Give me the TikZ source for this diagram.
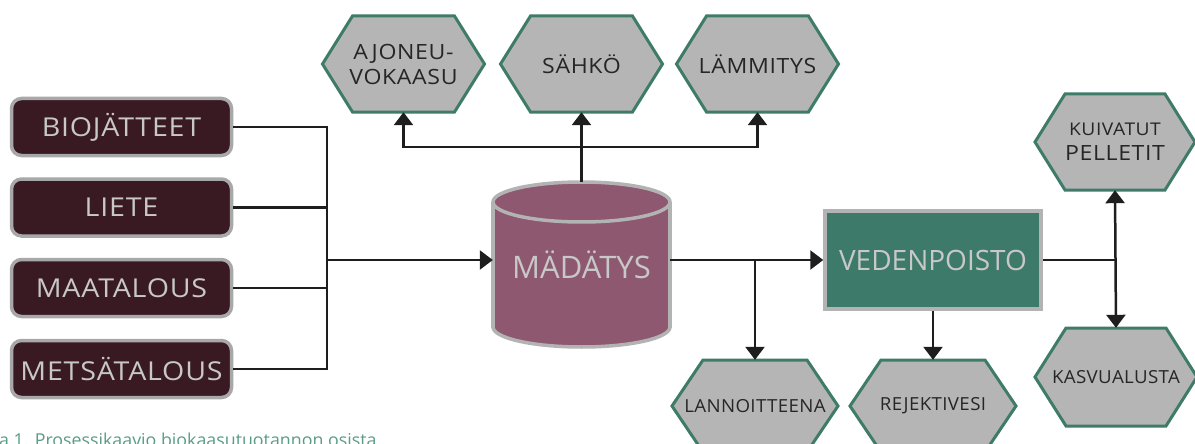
\documentclass[tikz,border=0pt]{standalone}
\usepackage{fontspec}
\setmainfont{Open Sans}
\newfontfamily\spfont[FakeStretch=1.1,LetterSpace=3]{Open Sans}
\newfontfamily\smfont[FakeStretch=1.04,LetterSpace=2]{Open Sans}
\usetikzlibrary{arrows.meta}
\definecolor{srcfill}{HTML}{3A1A22}
\definecolor{srcline}{HTML}{A8A8A8}
\definecolor{lighttext}{HTML}{C8C8C8}
\definecolor{cylfill}{HTML}{8E5870}
\definecolor{cylline}{HTML}{B3B3B3}
\definecolor{vedfill}{HTML}{3D7A6A}
\definecolor{hexfill}{HTML}{B5B5B5}
\definecolor{hexline}{HTML}{3E7B69}
\definecolor{linecol}{HTML}{1E1E1E}
\definecolor{capgreen}{HTML}{5A9C85}
\newcommand{\hexnode}[7]{%
  \draw[hexshape] (#2-#4,#3-#5) -- (#2+#4,#3-#5) -- (#2+#4+#6,#3) -- (#2+#4,#3+#5)
     -- (#2-#4,#3+#5) -- (#2-#4-#6,#3) -- cycle;
  \node[hextext, minimum width=2*#4, minimum height=2*#5] (#1) at (#2,#3) {#7};}
\begin{document}
\begin{tikzpicture}[x=1pt,y=-1pt,
  srcbox/.style={draw=srcline, line width=3.5pt, fill=srcfill, rounded corners=10pt,
    minimum width=220pt, minimum height=57pt, inner sep=0pt, text=lighttext,
    font=\spfont\fontsize{26}{30}\selectfont},
  hexshape/.style={draw=hexline, line width=3pt, fill=hexfill, line join=miter},
  hextext/.style={inner sep=0pt, align=center, text=black!85,
    font=\spfont\fontsize{21}{25}\selectfont},
  conn/.style={draw=linecol, line width=2.5pt},
  arr/.style={conn, -{Triangle[width=19pt,length=13pt]}},
  darr/.style={conn, {Triangle[width=19pt,length=13pt]}-{Triangle[width=19pt,length=13pt]}},
  cylline/.style={draw=cylline, line width=3.5pt},
]
\useasboundingbox (0,0) rectangle (1195,444);

% source boxes
\node[srcbox] (bio) at (121.5,127) {BIOJÄTTEET};
\node[srcbox] (lie) at (121.5,207.5) {LIETE};
\node[srcbox] (maa) at (121.5,288) {MAATALOUS};
\node[srcbox] (met) at (121.5,369) {METSÄTALOUS};

% cylinder
\fill[cylfill] (581.5,327) ellipse [x radius=88.5pt, y radius=20pt];
\draw[cylline] (493,327) arc [start angle=180, end angle=360, x radius=88.5pt, y radius=20pt];
\fill[cylfill] (493,202) rectangle (670,327);
\draw[cylline] (493,202) -- (493,327.5);
\draw[cylline] (670,202) -- (670,327.5);
\draw[cylline, fill=cylfill] (581.5,202) ellipse [x radius=88.5pt, y radius=20pt];
\node[inner sep=0pt, minimum width=177pt, minimum height=165pt, text=lighttext,
  font=\fontsize{31}{36}\selectfont] (mad) at (581.5,264.5) {MÄDÄTYS};

% dewatering box
\node[draw=cylline, line width=3.5pt, fill=vedfill, minimum width=216pt, minimum height=98pt,
  inner sep=0pt, text=lighttext, font=\fontsize{28}{32}\selectfont] (ved) at (933,260) {VEDENPOISTO};

% hexagons
\hexnode{ajo}{403.5}{64}{51}{48}{30}{AJONEU-\\VOKAASU}
\hexnode{sah}{581.5}{64}{51}{48}{30}{SÄHKÖ}
\hexnode{lam}{757.5}{64}{51}{48}{30}{LÄMMITYS}
\hexnode{lan}{755}{406}{52}{46}{31}{\smfont\fontsize{18}{21}\selectfont LANNOITTEENA}
\hexnode{rej}{933}{406}{52}{46}{31}{\smfont\fontsize{18}{21}\selectfont REJEKTIVESI}
\hexnode{kui}{1115}{142}{50}{48}{30}{\spfont\fontsize{17.5}{22}\selectfont KUIVATUT\\PELLETIT}
\hexnode{kas}{1116}{377}{50}{49}{31}{\smfont\fontsize{18}{21}\selectfont KASVUALUSTA}

% junctions
\coordinate (jn) at (327,260);
\coordinate (jt) at (581.5,147);
\coordinate (jr) at (1116,260);

% connectors
\draw[conn] (bio.east) -| (jn);
\draw[conn] (lie.east) -| (jn);
\draw[conn] (maa.east) -| (jn);
\draw[conn] (met.east) -| (jn);
\draw[arr] (jn) -- (jn -| mad.west);
\draw[arr] (mad.north) -- (sah.south);
\draw[arr] (jt) -| (ajo.south);
\draw[arr] (jt) -| (lam.south);
\draw[arr] (mad.east |- ved.west) -- (ved.west);
\draw[arr] (lan |- ved.west) -- (lan.north);
\draw[arr] (ved.south) -- (rej.north);
\draw[conn] (ved.east) -- (jr);
\draw[darr] (kui.south) -- (kas.north);

% caption (cut off in the reference)
\node[anchor=base west, inner sep=0pt, text=capgreen, font=\fontsize{17.8}{20}\selectfont]
  (cap) at (-1,446) {a 1. Prosessikaavio biokaasutuotannon osista};
\end{tikzpicture}
\end{document}
